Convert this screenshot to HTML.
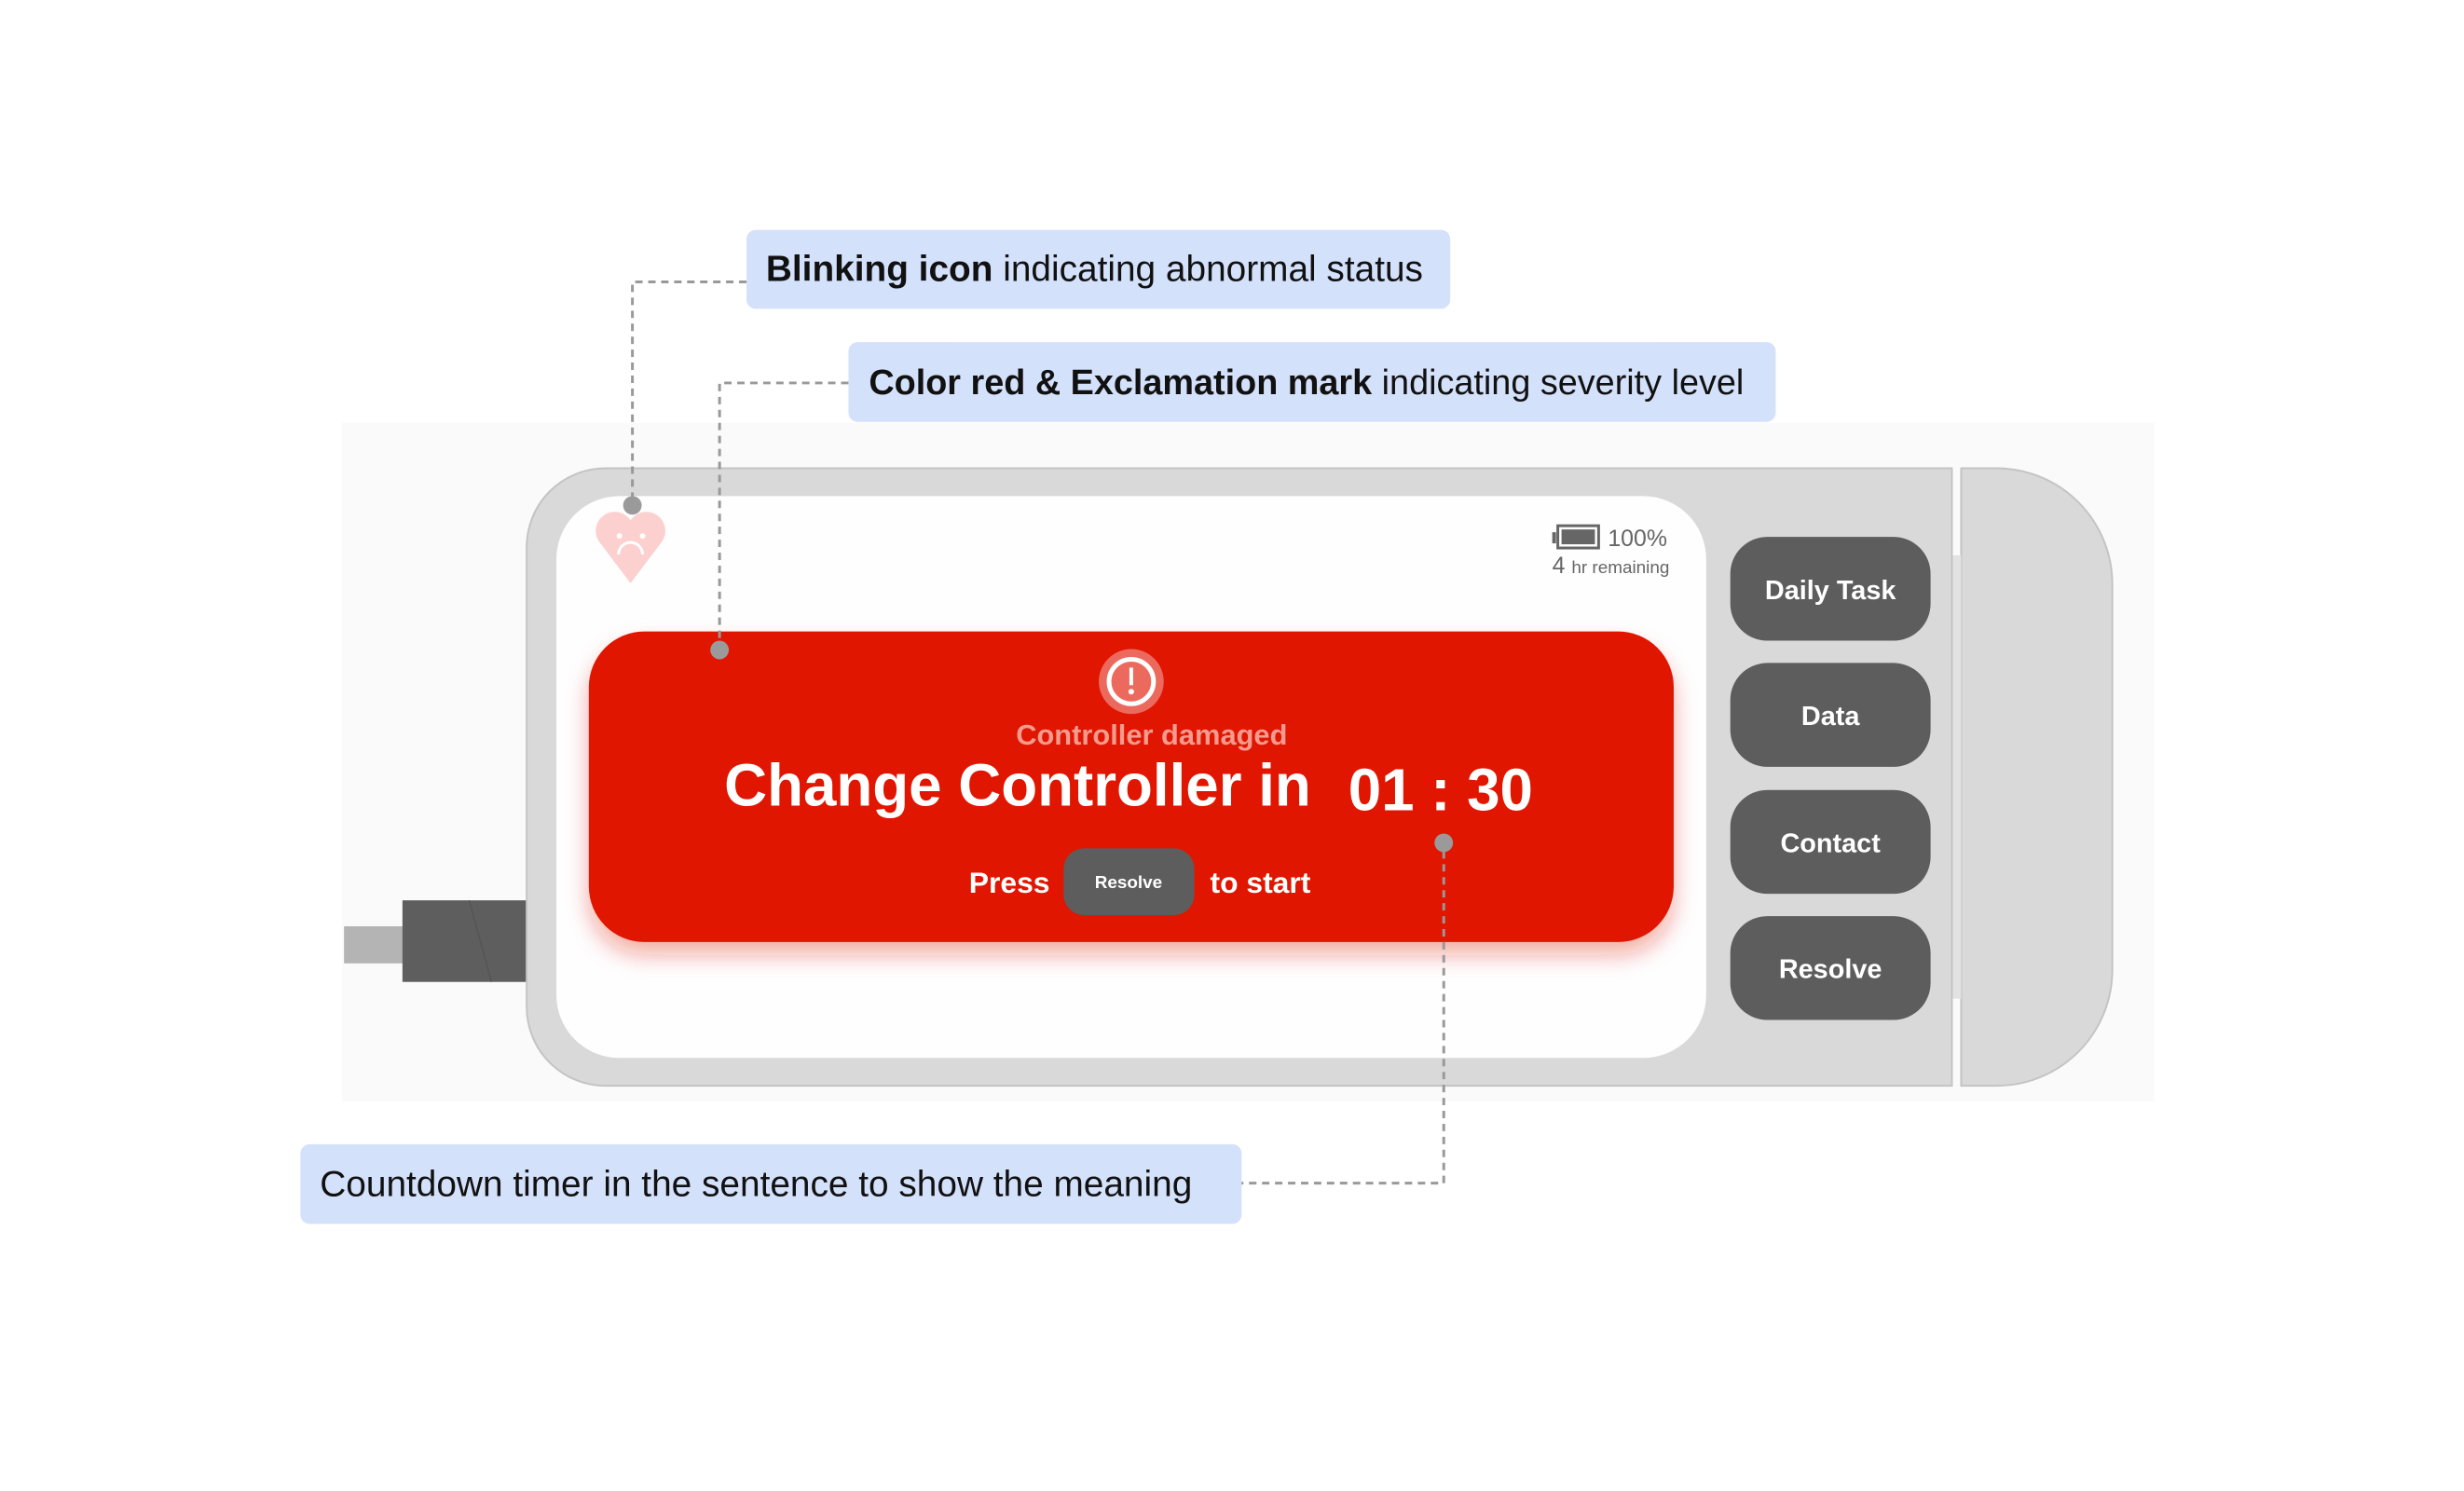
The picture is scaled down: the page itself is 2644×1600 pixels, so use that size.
<!DOCTYPE html>
<html><head><meta charset="utf-8"><style>
html,body{margin:0;padding:0;background:#fff;}
body{width:2644px;height:1600px;position:relative;overflow:hidden;font-family:"Liberation Sans",sans-serif;}
svg{position:absolute;left:0;top:0;}
</style></head><body>
<svg width="2644" height="1600" viewBox="0 0 2644 1600" xmlns="http://www.w3.org/2000/svg" font-family="Liberation Sans, sans-serif">
<defs>
<filter id="sh" x="-10%" y="-20%" width="120%" height="150%"><feDropShadow dx="0" dy="14" stdDeviation="12" flood-color="#e02010" flood-opacity="0.35"/></filter>
</defs>
<g transform="translate(3,1) scale(0.995)">
<rect x="366" y="455" width="1954" height="732" fill="#fafafa"/>
<rect x="368" y="998" width="64" height="40" fill="#b4b4b4"/>
<rect x="431" y="970" width="136" height="88" fill="#5e5e5e"/>
<line x1="503" y1="970" x2="527" y2="1058" stroke="#555" stroke-width="1.5"/>
<path d="M2112 504 H2150 A125 125 0 0 1 2275 629 V1045 A125 125 0 0 1 2150 1170 H2112 Z" fill="#d9d9d9" stroke="#c4c4c4" stroke-width="2"/>
<rect x="2102" y="598" width="10" height="478" fill="#e2e2e2"/>
<path d="M650 504 H2102 V1170 H650 A85 85 0 0 1 565 1085 V589 A85 85 0 0 1 650 504 Z" fill="#d9d9d9" stroke="#c4c4c4" stroke-width="2"/>
<rect x="597" y="534" width="1240" height="606" rx="68" fill="#fefefe"/>
<g fill="#5d5d5d">
<rect x="1863" y="578" width="216" height="112" rx="40"/>
<rect x="1863" y="714" width="216" height="112" rx="40"/>
<rect x="1863" y="851" width="216" height="112" rx="40"/>
<rect x="1863" y="987" width="216" height="112" rx="40"/>
</g>
<g fill="#fff" font-size="29" font-weight="bold" text-anchor="middle">
<text x="1971" y="645">Daily Task</text>
<text x="1971" y="781">Data</text>
<text x="1971" y="918">Contact</text>
<text x="1971" y="1054">Resolve</text>
</g>
<rect x="1671" y="573" width="4" height="12" fill="#666"/>
<rect x="1677" y="566" width="44" height="24" fill="none" stroke="#666" stroke-width="3"/>
<rect x="1681" y="570" width="36" height="16" fill="#666"/>
<text x="1731" y="588" font-size="25" fill="#666">100%</text>
<text x="1671" y="617" font-size="25" fill="#666">4 <tspan font-size="19">hr remaining</tspan></text>
<path d="M677 628 L643 583 A20 20 0 0 1 677 560 A20 20 0 0 1 711 583 Z" fill="#fdd0d0"/>
<circle cx="665" cy="577" r="3" fill="#fff"/><circle cx="690" cy="577" r="3" fill="#fff"/>
<path d="M664 597 A13 13 0 0 1 690 597" fill="none" stroke="#fff" stroke-width="3"/>
<rect x="632" y="680" width="1170" height="335" rx="60" fill="#e01900" filter="url(#sh)"/>
<circle cx="1217" cy="734" r="35" fill="#ec6a5d"/>
<circle cx="1217" cy="734" r="24" fill="none" stroke="#fff" stroke-width="5"/>
<rect x="1215" y="719" width="4" height="19" fill="#fff"/><circle cx="1217" cy="745" r="3" fill="#fff"/>
<text x="1239" y="802" font-size="31" font-weight="bold" fill="#f49b90" text-anchor="middle">Controller damaged</text>
<text x="778" y="868" font-size="64" font-weight="bold" fill="#fff">Change Controller in</text>
<text x="1451" y="873" font-size="64" font-weight="bold" fill="#fff">01 : 30</text>
<text x="1042" y="962" font-size="32" font-weight="bold" fill="#fff">Press</text>
<rect x="1144" y="914" width="141" height="72" rx="22" fill="#5d5d5d"/>
<text x="1214" y="957" font-size="19" font-weight="bold" fill="#fff" text-anchor="middle">Resolve</text>
<text x="1302" y="962" font-size="32" font-weight="bold" fill="#fff">to start</text>
<g fill="none" stroke="#999" stroke-width="3" stroke-dasharray="8,6">
<polyline points="802,303 679,303 679,544"/>
<polyline points="912,412 773,412 773,698"/>
<polyline points="1330,1275 1554,1275 1554,908"/>
</g>
<g fill="#9a9a9a"><circle cx="679" cy="544" r="10"/><circle cx="773" cy="700" r="10"/><circle cx="1554" cy="908" r="10"/></g>
<g fill="#d4e1fb">
<rect x="802" y="247" width="759" height="85" rx="10"/>
<rect x="912" y="368" width="1000" height="86" rx="10"/>
<rect x="321" y="1233" width="1015" height="86" rx="10"/>
</g>
<g font-size="39" fill="#111">
<text x="823" y="302"><tspan font-weight="bold">Blinking icon</tspan> indicating abnormal status</text>
<text x="934" y="424" font-size="38"><tspan font-weight="bold">Color red &amp; Exclamation mark</tspan> indicating severity level</text>
<text x="342" y="1289">Countdown timer in the sentence to show the meaning</text>
</g>
</g>
</svg>
</body></html>
